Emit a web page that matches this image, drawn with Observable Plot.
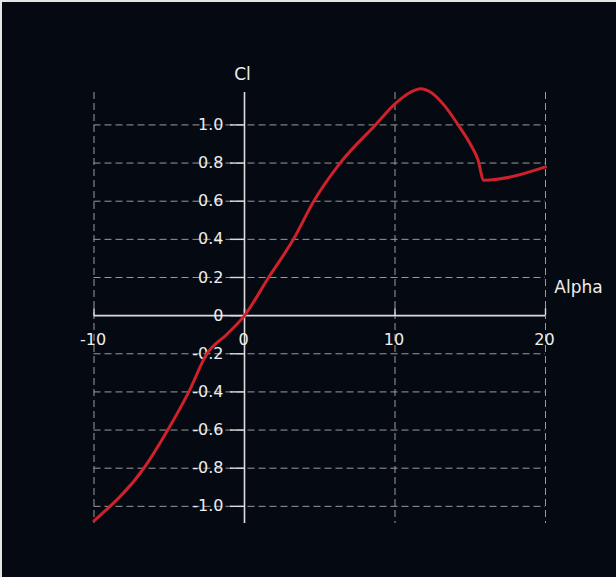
<!DOCTYPE html>
<html>
<head>
<meta charset="utf-8">
<script src="https://cdn.jsdelivr.net/npm/d3@7"></script>
<script src="https://cdn.jsdelivr.net/npm/@observablehq/plot@0.6"></script>
<style>
  html, body { margin: 0; padding: 0; background: #050a12; }
  #wrap { position: relative; width: 616px; height: 577px; overflow: hidden; }
  #edge { position: absolute; left: 0; top: 0; width: 614px; height: 575px;
          border-top: 2px solid #e6e6e6; border-left: 2px solid #e6e6e6; pointer-events: none; }
  svg { display: block; }
</style>
</head>
<body>
<div id="wrap"><div id="edge"></div></div>
<script>
// Curve data: lift coefficient Cl vs angle of attack Alpha
const alpha = [-10, -6.6, -5.1, -3.7, -2.5, -1.2, 0, 1.6, 3.25, 4.6, 6.35, 8.7, 10, 11, 11.7, 12.4, 13.3, 14.2, 15.0, 15.5, 15.9, 20];
const cl    = [-1.076, -0.79, -0.60, -0.40, -0.20, -0.10, 0, 0.20, 0.40, 0.60, 0.80, 1.0, 1.11, 1.17, 1.19, 1.17, 1.10, 1.00, 0.90, 0.82, 0.71, 0.78];

// Axis ticks and labels
const xTicks = [-10, 0, 10, 20];
const xTickLabels = ["-10", "0", "10", "20"];
const xGrid = [-10, 10, 20];
const yTicks = [-1.0, -0.8, -0.6, -0.4, -0.2, 0, 0.2, 0.4, 0.6, 0.8, 1.0];
const yTickLabels = ["-1.0", "-0.8", "-0.6", "-0.4", "-0.2", "0", "0.2", "0.4", "0.6", "0.8", "1.0"];
const yGrid = [-1.0, -0.8, -0.6, -0.4, -0.2, 0.2, 0.4, 0.6, 0.8, 1.0];
const xTitle = "Alpha";
const yTitle = "Cl";

const points = alpha.map((a, i) => ({alpha: a, cl: cl[i]}));
const gridColor = "#9a9a9a";
const axisColor = "#dcdcdc";
const textColor = "#eeeeee";

const chart = Plot.plot({
  width: 616,
  height: 577,
  marginLeft: 93.5,
  marginRight: 71,
  marginTop: 92,
  marginBottom: 54,
  x: {domain: [-10, 20], axis: null},
  y: {domain: [-1.09, 1.17], axis: null},
  style: {background: "#050a12", fontFamily: "'DejaVu Sans', Verdana, sans-serif", color: textColor},
  marks: [
    Plot.ruleY(yGrid, {stroke: gridColor, strokeDasharray: "7,4", strokeWidth: 1}),
    Plot.ruleX(xGrid, {stroke: gridColor, strokeDasharray: "7,4", strokeWidth: 1}),
    Plot.ruleY([0], {x1: -10, x2: 20, stroke: axisColor, strokeWidth: 1.6}),
    Plot.ruleX([0], {stroke: axisColor, strokeWidth: 1.6}),
    Plot.ruleY(yTicks, {x1: 0, x2: 0, insetLeft: -14, stroke: axisColor, strokeWidth: 1.4}),
    Plot.ruleX(xTicks, {y1: 0, y2: 0, insetTop: -7, stroke: axisColor, strokeWidth: 1.4}),
    Plot.text(yTicks, {x: 0, y: d => d, text: (d, i) => yTickLabels[i], textAnchor: "end", dx: -21, fontSize: 16, fill: textColor}),
    Plot.text(xTicks, {x: d => d, y: 0, text: (d, i) => xTickLabels[i], dy: 24, dx: -1, fontSize: 16, fill: textColor}),
    Plot.text([yTitle], {x: 0, y: 1.17, text: d => d, dy: -18, dx: -2, fontSize: 17, fill: textColor}),
    Plot.text([xTitle], {x: 20, y: 0, text: d => d, dx: 33, dy: -28, fontSize: 17, fill: textColor}),
    Plot.line(points, {x: "alpha", y: "cl", curve: "monotone-x", stroke: "#d0202a", strokeWidth: 3, strokeLinejoin: "round", strokeLinecap: "round"})
  ]
});
document.getElementById("wrap").insertBefore(chart, document.getElementById("edge"));
</script>
</body>
</html>
